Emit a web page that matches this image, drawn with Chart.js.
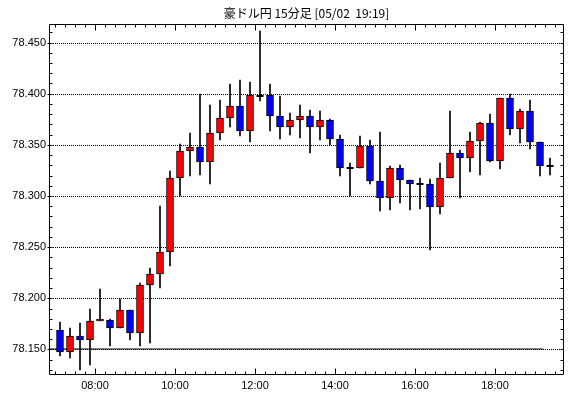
<!DOCTYPE html>
<html>
<head>
<meta charset="utf-8">
<script src="https://cdn.jsdelivr.net/npm/chart.js@4"></script>
<style>body{margin:0;background:#fff}</style>
</head>
<body>
<canvas id="chart" width="570" height="398"></canvas>
<script>
const title = '豪ドル円 15分足 [05/02  19:19]'

// 15-minute candles, 07:00 .. 19:15
const opens = [78.169, 78.148, 78.163, 78.159, 78.178, 78.179, 78.171, 78.189, 78.166, 78.213,
  78.224, 78.245, 78.318, 78.344, 78.348, 78.333, 78.362, 78.376, 78.388, 78.364,
  78.398, 78.399, 78.378, 78.367, 78.374, 78.378, 78.367, 78.374, 78.356, 78.327,
  78.327, 78.349, 78.315, 78.298, 78.327, 78.316, 78.312, 78.312, 78.289, 78.318,
  78.342, 78.337, 78.354, 78.371, 78.334, 78.396, 78.365, 78.383, 78.353, 78.329]
const highs = [78.177, 78.171, 78.176, 78.190, 78.209, 78.180, 78.199, 78.189, 78.215, 78.230,
  78.290, 78.324, 78.351, 78.362, 78.400, 78.389, 78.394, 78.409, 78.413, 78.411,
  78.461, 78.409, 78.398, 78.381, 78.389, 78.384, 78.383, 78.375, 78.360, 78.332,
  78.359, 78.355, 78.363, 78.329, 78.330, 78.316, 78.318, 78.317, 78.332, 78.383,
  78.345, 78.363, 78.372, 78.380, 78.396, 78.400, 78.385, 78.394, 78.353, 78.337]
const lows = [78.144, 78.142, 78.130, 78.135, 78.178, 78.153, 78.171, 78.159, 78.153, 78.156,
  78.210, 78.232, 78.300, 78.320, 78.321, 78.312, 78.355, 78.367, 78.359, 78.353,
  78.393, 78.364, 78.356, 78.360, 78.357, 78.342, 78.355, 78.350, 78.320, 78.300,
  78.327, 78.312, 78.285, 78.286, 78.293, 78.286, 78.287, 78.247, 78.282, 78.318,
  78.298, 78.323, 78.321, 78.333, 78.326, 78.360, 78.352, 78.346, 78.320, 78.321]
const closes = [78.148, 78.163, 78.159, 78.178, 78.180, 78.171, 78.189, 78.166, 78.213, 78.224,
  78.245, 78.318, 78.344, 78.348, 78.333, 78.362, 78.376, 78.388, 78.364, 78.399,
  78.398, 78.378, 78.367, 78.374, 78.378, 78.367, 78.374, 78.356, 78.327, 78.327,
  78.349, 78.315, 78.298, 78.327, 78.316, 78.312, 78.312, 78.289, 78.318, 78.342,
  78.337, 78.354, 78.371, 78.334, 78.396, 78.365, 78.383, 78.353, 78.329, 78.329]

const tickLabels = ['08:00', '10:00', '12:00', '14:00', '16:00', '18:00']
const tickPos = [3.5, 11.5, 19.5, 27.5, 35.5, 43.5]
const yTicks = [78.15, 78.20, 78.25, 78.30, 78.35, 78.40, 78.45]
const refLine = 78.150

const idx = opens.map((o, i) => i)
const wicks = idx.map(i => ({x: i, y: [lows[i], highs[i]]}))
const bodyIdx = idx.filter(i => closes[i] !== opens[i])
const bodies = bodyIdx.map(i => ({x: i, y: [opens[i], closes[i]]}))
const bodyColors = bodyIdx.map(i => closes[i] > opens[i] ? '#ff0000' : '#0000ff')
const dojis = idx.filter(i => closes[i] === opens[i]).map(i => ({x: i, y: opens[i]}))

const frame = {
  id: 'frame',
  afterDraw(chart) {
    const {ctx, chartArea: a, scales: {x, y}} = chart
    const L = Math.round(a.left) + 0.5, R = Math.round(a.right) - 0.5
    const T = Math.round(a.top) + 0.5, B = Math.round(a.bottom) - 0.5
    ctx.save()
    ctx.strokeStyle = '#000'
    ctx.lineWidth = 1
    ctx.beginPath()
    ctx.rect(L, T, R - L, B - T)
    for (let k = 7813; k <= 7846; k++) {
      const py = Math.round(y.getPixelForValue(k / 100)) + 0.5
      const major = k % 5 === 0
      ctx.moveTo(L - (major ? 2 : 0), py); ctx.lineTo(L + 3, py)
      ctx.moveTo(R, py); ctx.lineTo(R - 3, py)
    }
    for (let k = -1; k <= 50; k++) {
      const v = k + 0.5
      if (v < x.min || v > x.max) continue
      const px = Math.round(x.getPixelForValue(v)) + 0.5
      const len = (k - 3) % 8 === 0 ? 6 : 3
      ctx.moveTo(px, T); ctx.lineTo(px, T + len)
      ctx.moveTo(px, B); ctx.lineTo(px, B - len)
    }
    ctx.stroke()
    ctx.fillStyle = '#000'
    ctx.font = '12px "Noto Sans CJK JP"'
    ctx.textAlign = 'center'
    ctx.textBaseline = 'middle'
    ctx.fillText(title, (a.left + a.right) / 2, 13)
    ctx.restore()
  }
}

new Chart(document.getElementById('chart'), {
  type: 'bar',
  data: {
    datasets: [{
      type: 'scatter',
      data: dojis,
      pointStyle: 'line',
      pointRadius: 3.5,
      borderColor: '#000',
      borderWidth: 2,
      order: 0
    }, {
      data: bodies,
      backgroundColor: bodyColors,
      borderColor: '#000',
      borderWidth: 1,
      borderSkipped: false,
      barThickness: 7,
      grouped: false,
      order: 1
    }, {
      data: wicks,
      backgroundColor: '#000',
      barThickness: 1,
      grouped: false,
      order: 2
    }, {
      type: 'line',
      data: [{x: -1.15, y: refLine}, {x: 48.3, y: refLine}],
      borderColor: '#000',
      borderWidth: 1,
      pointRadius: 0,
      order: 3
    }]
  },
  options: {
    responsive: false,
    animation: false,
    layout: {padding: {top: 24, right: 5, left: 0, bottom: 0}},
    plugins: {legend: {display: false}, tooltip: {enabled: false}},
    scales: {
      x: {
        type: 'linear',
        min: -1.15,
        max: 50.45,
        offset: false,
        alignToPixels: true,
        afterBuildTicks: s => { s.ticks = tickPos.map(v => ({value: v})) },
        afterFit: s => { s.height = 23 },
        ticks: {
          callback: (v, i) => tickLabels[i],
          color: '#000',
          font: {family: 'Liberation Sans', size: 11},
          padding: 4,
          maxRotation: 0
        },
        grid: {display: false, drawTicks: false},
        border: {display: false}
      },
      y: {
        min: 78.12508,
        max: 78.46808,
        alignToPixels: true,
        afterBuildTicks: s => { s.ticks = yTicks.map(v => ({value: v})) },
        afterFit: s => { s.width = 49 },
        ticks: {
          callback: v => v.toFixed(3),
          color: '#000',
          font: {family: 'Liberation Sans', size: 11},
          padding: 3
        },
        grid: {color: '#000', lineWidth: 1, borderDash: [1, 1], drawTicks: false},
        border: {display: false, dash: [1, 1]}
      }
    }
  },
  plugins: [frame]
})
</script>
</body>
</html>
